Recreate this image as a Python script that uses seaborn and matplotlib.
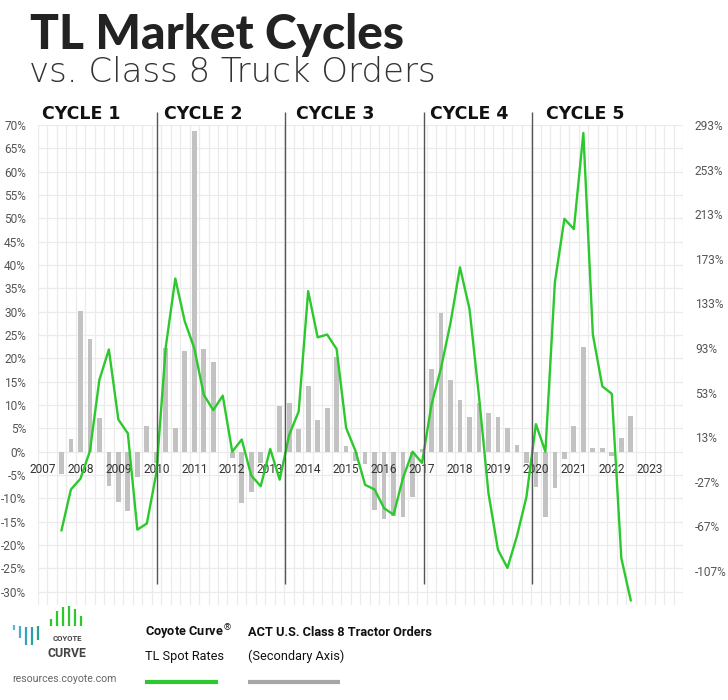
import numpy as np
import pandas as pd
import matplotlib
matplotlib.use("Agg")
import matplotlib.pyplot as plt
import seaborn as sns
from matplotlib.ticker import FixedLocator
from matplotlib.lines import Line2D
from matplotlib.transforms import blended_transform_factory

# ---------------- data ----------------
years = list(range(2007, 2024))          # x labels, one per year (Q1 position)
first_quarter = 2                        # first data point = 2007 Q3
# Coyote Curve TL spot rates, YoY % (left axis), quarterly from 2007 Q3
spot_rates = [-16.9, -8.1, -5.8, 0.1, 15.4, 21.9, 6.9, 3.9, -16.7, -15.4,
              -4.6, 22.5, 37.1, 27.9, 22.2, 12.2, 8.9, 12.0, 0.0, 2.6,
              -5.1, -7.4, 0.6, -6.0, 3.6, 8.6, 34.4, 24.5, 25.1, 22.0,
              5.1, 0.1, -7.1, -8.1, -12.1, -13.5, -5.6, 0.0, -2.4, 10.1,
              17.9, 27.6, 39.5, 30.6, 11.9, -8.9, -21.0, -24.9, -18.1, -9.7,
              5.9, 0.0, 36.3, 49.9, 47.7, 68.3, 25.1, 14.0, 12.4, -22.8,
              -31.9]
# ACT U.S. Class 8 tractor orders, YoY % (secondary axis), quarterly from 2007 Q3
truck_orders = [-20, 11, 126, 101, 30, -31, -45, -53, -23, 23,
                -10, 93, 21, 90, 288, 92, 80, 0, -6, -46,
                -36, -10, 0, 41, 44, 20, 59, 28, 39, 85,
                5, -8, -11, -52, -60, -58, -59, -41, 2, 74,
                124, 64, 46, 31, 44, 35, 31, 21, 6, -10,
                -32, -59, -33, -7, 23, 94, 3, 3, -4, 12,
                32]
left_ticks = list(range(-30, 75, 5))
right_ticks = [293, 253, 213, 173, 133, 93, 53, 13, -27, -67, -107]
cycle_names = ["CYCLE 1", "CYCLE 2", "CYCLE 3", "CYCLE 4", "CYCLE 5"]
cycle_breaks = [12.1, 25.55, 40.2, 51.55]
cycle_label_x = [0.0, 12.83, 26.73, 40.8, 53.06]

# ---------------- setup ----------------
n_quarters = len(years) * 4
q_idx = np.arange(first_quarter, first_quarter + len(spot_rates))
df = pd.DataFrame({"quarter": q_idx, "spot": spot_rates, "orders": truck_orders})

sns.set_theme(style="white")
plt.rcParams["font.family"] = ["Roboto", "DejaVu Sans"]

GREEN = "#2dc82d"
BAR_GRAY = "#c2c2c2"
GRID = "#ebebeb"
Y_LO, Y_HI = -32.85, 70.0
FACTOR = 293.0 / 70.0

fig = plt.figure(figsize=(7.28, 7.0), dpi=100)
rect = [37.7 / 728, 1 - 605 / 700, (683 - 37.7) / 728, (605 - 125) / 700]
ax = fig.add_axes(rect)
ax.set_zorder(0)

# base axes: grid + left ticks
ax.set_xlim(-0.5, n_quarters - 0.5)
ax.set_ylim(Y_LO, Y_HI)
ax.set_yticks(left_ticks)
ax.set_yticklabels([f"{t}%" for t in left_ticks])
ax.xaxis.set_minor_locator(FixedLocator(np.arange(-0.5, n_quarters, 1.0)))
ax.grid(which="minor", axis="x", color=GRID, linewidth=0.9)
ax.grid(which="major", axis="y", color=GRID, linewidth=0.9)
ax.grid(which="major", axis="x", visible=False)
ax.tick_params(axis="x", which="both", length=0, labelbottom=False)
ax.tick_params(axis="y", length=0, pad=8.4, labelsize=8.6, labelcolor="#555555")
ax.set_axisbelow(True)
for s in ax.spines.values():
    s.set_visible(False)

# secondary axes: truck orders bars
ax2 = ax.twinx()
ax2.set_zorder(1)
sns.barplot(data=df, x="quarter", y="orders", native_scale=True, width=0.5,
            color=BAR_GRAY, saturation=1, errorbar=None, linewidth=0, ax=ax2)
ax2.set_ylim(Y_LO * FACTOR, Y_HI * FACTOR)
ax2.set_yticks(right_ticks)
ax2.set_yticklabels([f"{t}%" for t in right_ticks])
ax2.tick_params(axis="y", length=0, pad=8.6, labelsize=8.6, labelcolor="#555555")
ax2.set_xlabel("")
ax2.set_ylabel("")
for s in ax2.spines.values():
    s.set_visible(False)

# top axes: spot rate line, year labels at zero, cycle markers
ax3 = ax.twinx()
ax3.set_zorder(2)
ax3.patch.set_visible(False)
sns.lineplot(data=df, x="quarter", y="spot", color=GREEN, linewidth=1.7, ax=ax3)
ax3.set_ylim(Y_LO, Y_HI)
ax3.set_xlim(-0.5, n_quarters - 0.5)
ax3.set_yticks([])
ax3.set_xlabel("")
ax3.set_ylabel("")
ax3.xaxis.set_visible(True)
ax3.set_xticks(np.arange(0, n_quarters, 4))
ax3.set_xticklabels([str(y) for y in years], fontweight="bold")
ax3.spines["bottom"].set_position(("data", 0))
for s in ax3.spines.values():
    s.set_visible(False)
ax3.tick_params(axis="x", which="both", length=0, pad=8.3, labelsize=8.6,
                labelcolor="#333333", labelbottom=True)
ax3.grid(False)
ax3.set_axisbelow(True)

ax3.vlines(cycle_breaks, -28.35, 72.8, colors="#555555", linewidth=1.0,
           clip_on=False, zorder=3)
tr = blended_transform_factory(ax3.transData, fig.transFigure)
for name, xpos in zip(cycle_names, cycle_label_x):
    ax3.text(xpos, 1 - 119 / 700, name, transform=tr, ha="left",
             va="baseline", fontsize=12.5, fontweight="bold", color="#111111",
             family=["DejaVu Sans"], clip_on=False)

# ---------------- titles ----------------
fig.text(30 / 728, 1 - 49 / 700, "TL Market Cycles", fontsize=34.5,
         fontweight="black", family=["Lato", "DejaVu Sans"], color="#222222",
         va="baseline", ha="left")
fig.text(29 / 728, 1 - 82 / 700, "vs. Class 8 Truck Orders", fontsize=24.5,
         fontweight="light", family=["DejaVu Sans"], color="#333333",
         va="baseline", ha="left")

# ---------------- legend ----------------
NARROW = ["Roboto", "DejaVu Sans"]
fig.text(145 / 728, 1 - 636 / 700, r"Coyote Curve$^{\circledR}$", fontsize=9.2,
         fontweight="bold", family=NARROW, color="#111111", va="baseline")
fig.text(145 / 728, 1 - 660 / 700, "TL Spot Rates", fontsize=9.2,
         family=NARROW, color="#111111", va="baseline")
fig.add_artist(Line2D([145 / 728, 218 / 728], [1 - 682 / 700] * 2,
                      color=GREEN, linewidth=3.0, solid_capstyle="butt"))
fig.text(248 / 728, 1 - 636 / 700, "ACT U.S. Class 8 Tractor Orders",
         fontsize=9.2, fontweight="bold", family=NARROW, color="#111111",
         va="baseline")
fig.text(248 / 728, 1 - 660 / 700, "(Secondary Axis)", fontsize=9.2,
         family=NARROW, color="#111111", va="baseline")
fig.add_artist(Line2D([248 / 728, 340 / 728], [1 - 682 / 700] * 2,
                      color="#a6a6a6", linewidth=3.0, solid_capstyle="butt"))

# ---------------- logo ----------------
stripes = [  # x, y_top, y_bottom (px), colour
    (14, 625, 630, "#5bb8dc"), (20, 626, 638, "#48add2"),
    (26, 627, 645, "#35a3c0"), (32, 627, 645, "#2a9fa8"),
    (38, 626, 640, "#26a38c"),
    (51, 619, 626, "#2dc82d"), (57, 611, 626, "#2dc82d"),
    (63, 607, 626, "#2dc82d"), (69, 606, 626, "#2dc82d"),
    (75, 609, 626, "#2dc82d"), (81, 616, 626, "#2dc82d"),
]
for x, yt, yb, c in stripes:
    fig.add_artist(Line2D([x / 728] * 2, [1 - yt / 700, 1 - yb / 700],
                          color=c, linewidth=1.6, solid_capstyle="butt"))
fig.text(67 / 728, 1 - 641 / 700, "COYOTE", fontsize=5.6, fontweight="bold",
         family=NARROW, color="#444444", ha="center", va="baseline")
fig.text(67 / 728, 1 - 657 / 700, "CURVE", fontsize=8.8, fontweight="bold",
         family=NARROW, color="#444444", ha="center", va="baseline")
fig.text(12 / 728, 1 - 682 / 700, "resources.coyote.com", fontsize=7.6,
         family=NARROW, color="#666666", ha="left", va="baseline")

fig.savefig("out.png", dpi=100)
